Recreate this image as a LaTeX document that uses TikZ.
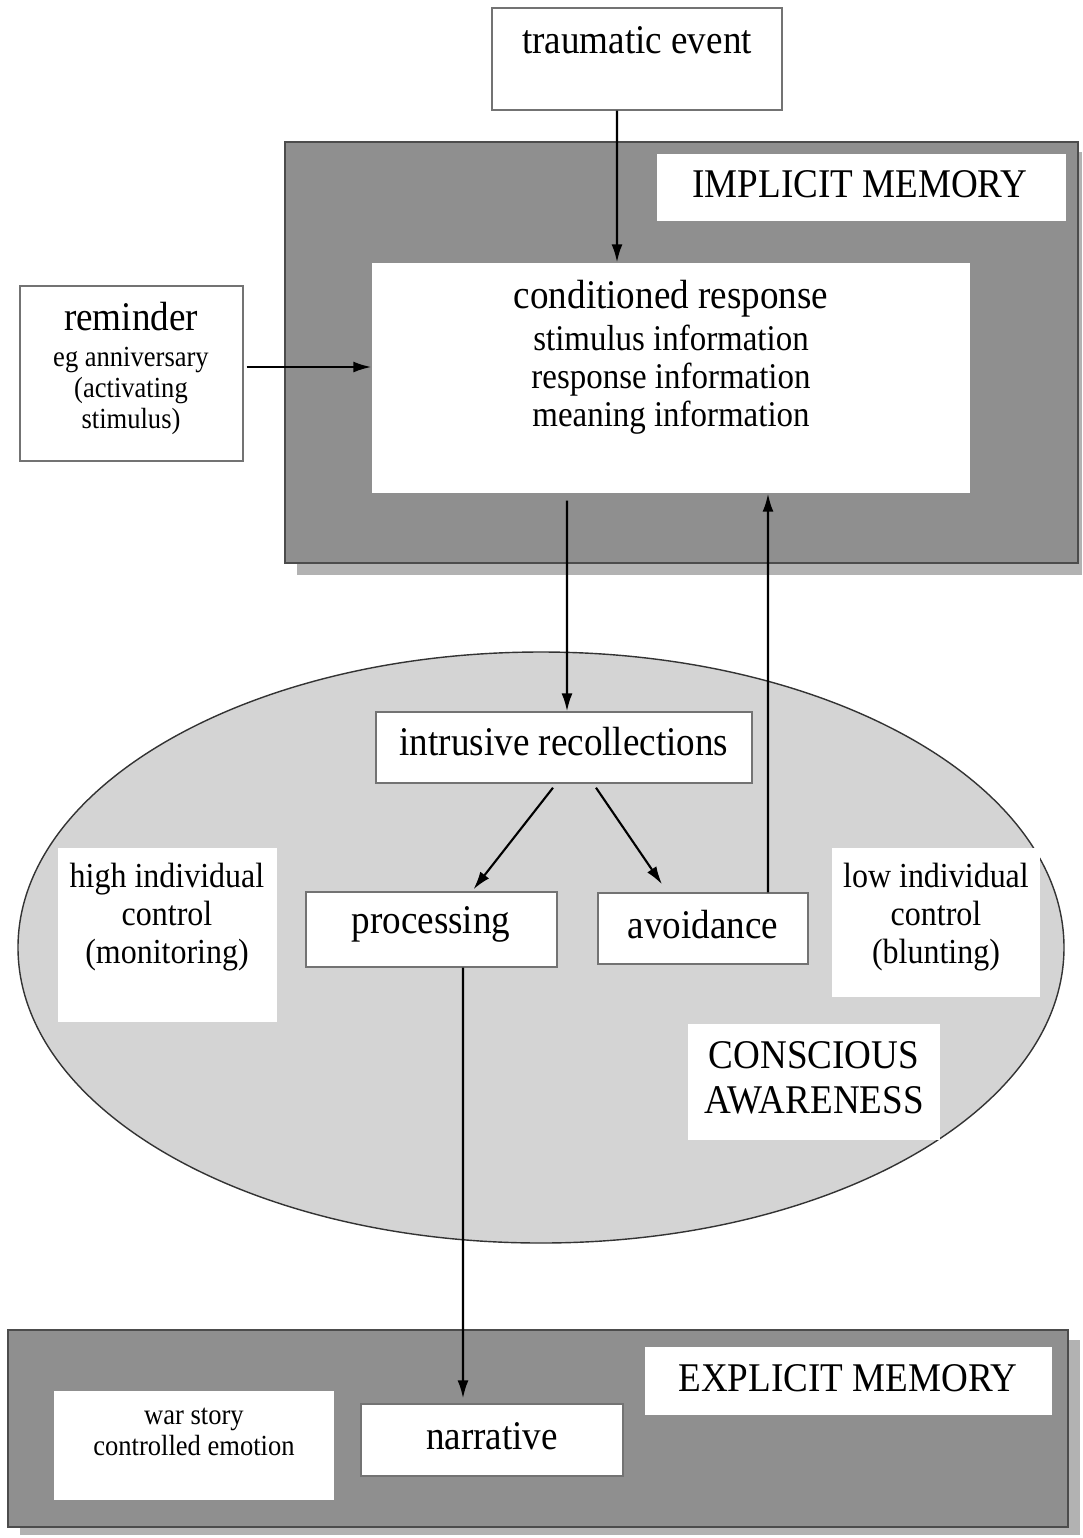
\documentclass[tikz,border=0pt]{standalone}
\usepackage{fontspec}
\setmainfont{Liberation Serif}[FakeStretch=0.91]
\usepackage{tikz}
\usetikzlibrary{arrows,arrows.meta,positioning}

\definecolor{memgray}{gray}{0.56}
\definecolor{shadegray}{gray}{0.70}
\definecolor{awaregray}{gray}{0.83}

\newcommand\bigtxt{\fontsize{11.6}{11.4}\selectfont}
\newcommand\midtxt{\fontsize{10.3}{10.8}\selectfont}
\newcommand\sidetxt{\fontsize{10}{10.7}\selectfont}
\newcommand\smalltxt{\fontsize{8.3}{8.8}\selectfont}

\tikzset{
  plainbox/.style={fill=white, inner sep=0pt},
  linebox/.style={draw=black!55, fill=white, inner sep=0pt},
  words/.style={align=center, inner sep=0pt},
}

\begin{document}
\begin{tikzpicture}[>={Latex[length=1.8mm,width=1.1mm]}]
                \useasboundingbox (0,0) rectangle (10.82,-15.38);
                % implicit memory
                \draw [fill=shadegray, draw=none] (2.97,-1.52) rectangle (10.82,-5.75);
                \draw [fill=memgray, draw=black!70] (2.85,-1.42) rectangle (10.78,-5.63);
                \node[plainbox, minimum width=4.09cm, minimum height=0.67cm] (impl) at (8.615,-1.875) {};
                \node[words, font=\bigtxt] (impl-txt) at (8.60,-1.84) {IMPLICIT MEMORY};
                \node[plainbox, minimum width=5.98cm, minimum height=2.30cm] (cond) at (6.71,-3.78) {};
                \node[words, font=\midtxt] (cond-txt) at (6.71,-3.57) {{\bigtxt conditioned response}\\[1.2pt]
                    stimulus information\\response information\\meaning information};
                % outside boxes
                \node[linebox, minimum width=2.90cm, minimum height=1.02cm] (trauma) at (6.37,-0.59) {};
                \node[words, font=\bigtxt] (trauma-txt) at (6.37,-0.40) {traumatic event};
                \node[linebox, minimum width=2.23cm, minimum height=1.75cm] (remind) at (1.315,-3.735) {};
                \node[words, font=\smalltxt] (remind-txt) at (1.31,-3.68) {{\bigtxt reminder}\\[1.5pt]
                    eg anniversary\\(activating\\stimulus)};
                % conscious awareness
                \draw [fill=awaregray, draw=black!80] (5.41,-9.475) ellipse [x radius=5.23, y radius=2.955];
                \node[linebox, minimum width=3.76cm, minimum height=0.71cm] (intr) at (5.64,-7.475) {};
                \node[words, font=\bigtxt] (intr-txt) at (5.64,-7.42) {intrusive recollections};
                \node[linebox, minimum width=2.51cm, minimum height=0.75cm] (proc) at (4.315,-9.295) {};
                \node[words, font=\bigtxt] (proc-txt) at (4.31,-9.24) {processing};
                \node[linebox, minimum width=2.10cm, minimum height=0.71cm] (avoid) at (7.03,-9.285) {};
                \node[words, font=\bigtxt] (avoid-txt) at (7.03,-9.25) {avoidance};
                \node[plainbox, minimum width=2.19cm, minimum height=1.74cm] (high) at (1.675,-9.35) {};
                \node[words, font=\sidetxt] (high-txt) at (1.67,-9.17) {high individual\\control\\(monitoring)};
                \node[plainbox, minimum width=2.08cm, minimum height=1.49cm] (low) at (9.36,-9.225) {};
                \node[words, font=\sidetxt] (low-txt) at (9.36,-9.17) {low individual\\control\\(blunting)};
                \node[plainbox, minimum width=2.52cm, minimum height=1.16cm] (consc) at (8.14,-10.82) {};
                \node[words, font=\bigtxt, text width=2.5cm] (consc-txt) at (8.14,-10.78) {CONSCIOUS\\[1.3pt]AWARENESS};
                % explicit memory
                \draw [fill=shadegray, draw=none] (0.20,-13.40) rectangle (10.80,-15.35);
                \draw [fill=memgray, draw=black!70] (0.08,-13.30) rectangle (10.68,-15.27);
                \node[plainbox, minimum width=4.07cm, minimum height=0.68cm] (expl) at (8.485,-13.81) {};
                \node[words, font=\bigtxt] (expl-txt) at (8.48,-13.78) {EXPLICIT MEMORY};
                \node[plainbox, minimum width=2.80cm, minimum height=1.09cm] (war) at (1.94,-14.455) {};
                \node[words, font=\smalltxt] (war-txt) at (1.94,-14.32) {war story\\controlled emotion};
                \node[linebox, minimum width=2.62cm, minimum height=0.72cm] (narr) at (4.92,-14.40) {};
                \node[words, font=\bigtxt] (narr-txt) at (4.92,-14.36) {narrative};
                % connectors
                \draw[semithick, ->] ([xshift=-0.20cm]trauma.south) -- ([xshift=-0.54cm]cond.north);
                \draw[semithick, ->] ([xshift=0.03cm, yshift=0.065cm]remind.east) -- ([yshift=0.11cm]cond.west);
                \draw[semithick, ->] ([xshift=-1.04cm, yshift=-0.07cm]cond.south) -- ([xshift=0.03cm]intr.north);
                \draw[semithick, ->] ([xshift=0.65cm]avoid.north) -- ([xshift=0.97cm]cond.south);
                \draw[semithick, ->] ([xshift=-0.11cm, yshift=-0.04cm]intr.south) -- ([xshift=0.42cm, yshift=0.02cm]proc.north);
                \draw[semithick, ->] ([xshift=0.32cm, yshift=-0.04cm]intr.south) -- ([xshift=-0.41cm, yshift=0.08cm]avoid.north);
                \draw[semithick, ->] ([xshift=0.315cm]proc.south) -- ([xshift=-0.29cm, yshift=0.05cm]narr.north);
\end{tikzpicture}
\end{document}
